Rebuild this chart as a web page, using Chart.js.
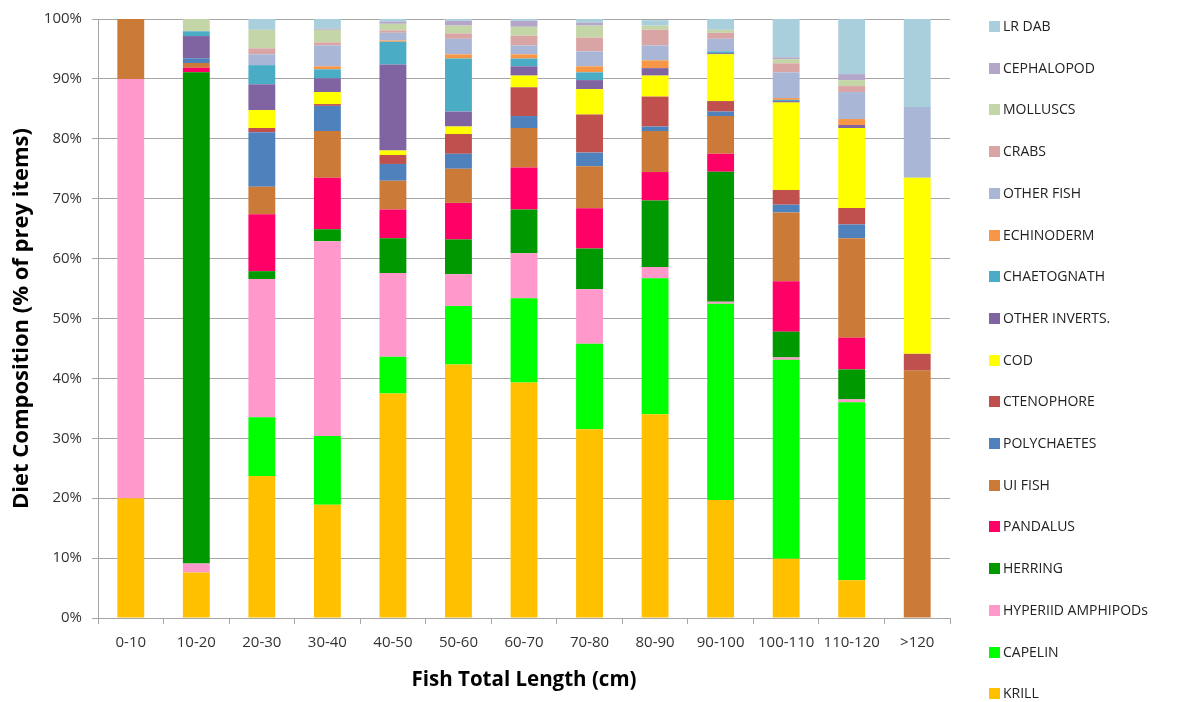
<!DOCTYPE html>
<html>
<head>
<meta charset="utf-8">
<script src="https://cdn.jsdelivr.net/npm/chart.js@4"></script>
<style>
  body { margin: 0; background: #fff; }
  #wrap { position: relative; width: 1178px; height: 702px; }
  #leyenda { position: absolute; left: 0; top: 0; }
  .item { position: absolute; left: 989px; height: 18px; line-height: 18px; font: 14px "Open Sans", sans-serif; color: #222; white-space: nowrap; }
  .caja { display: inline-block; width: 11px; height: 11px; margin-right: 3px; vertical-align: -1px; }
</style>
</head>
<body>
<div id="wrap">
  <canvas id="dieta" width="1178" height="702"></canvas>
  <div id="leyenda"></div>
</div>
<script>
let categorias = ['0-10','10-20','20-30','30-40','40-50','50-60','60-70','70-80','80-90','90-100','100-110','110-120','>120']

let krill        = [20, 7.6, 23.7, 18.9, 37.5, 42.3, 39.3, 31.5, 34.0, 19.7, 9.9, 6.3, 0]
let capelin      = [0, 0, 9.8, 11.5, 6.1, 9.8, 14.1, 14.3, 22.7, 32.75, 33.2, 29.7, 0]
let hyperiid     = [70, 1.5, 23.1, 32.5, 14.0, 5.3, 7.5, 9.1, 1.9, 0.35, 0.4, 0.5, 0]
let herring      = [0, 82.0, 1.3, 2.0, 5.8, 5.8, 7.3, 6.8, 11.1, 21.7, 4.3, 5.0, 0]
let pandalus     = [0, 0.75, 9.5, 8.6, 4.8, 6.1, 7.0, 6.7, 4.75, 3.0, 8.4, 5.3, 0]
let uiFish       = [10, 0.8, 4.6, 7.8, 4.8, 5.7, 6.6, 7.0, 6.85, 6.3, 11.5, 16.6, 41.3]
let polychaetes  = [0, 0.8, 9.1, 4.2, 2.8, 2.5, 2.0, 2.3, 0.75, 0.75, 1.3, 2.3, 0]
let ctenophore   = [0, 0, 0.7, 0.3, 1.5, 3.3, 4.8, 6.35, 5.0, 1.75, 2.45, 2.75, 2.8]
let cod          = [0, 0, 3.0, 2.0, 0.75, 1.25, 1.95, 4.25, 3.5, 7.8, 14.6, 13.35, 29.4]
let otherInverts = [0, 3.7, 4.3, 2.3, 14.35, 2.5, 1.55, 1.5, 1.25, 0.2, 0.25, 0.5, 0]
let chaetognath  = [0, 0.8, 3.2, 1.5, 3.8, 8.85, 1.3, 1.3, 0, 0.3, 0.2, 0, 0]
let echinoderm   = [0, 0, 0, 0.5, 0.2, 0.7, 0.7, 1.0, 1.3, 0, 0.3, 1.0, 0]
let otherFish    = [0, 0, 1.8, 3.5, 1.3, 2.6, 1.5, 2.5, 2.5, 2.1, 4.3, 4.5, 11.8]
let crabs        = [0, 0, 1.0, 0.5, 0.4, 0.9, 1.6, 2.3, 2.6, 1.0, 1.5, 1.0, 0]
let molluscs     = [0, 2.1, 3.1, 2.1, 1.1, 1.3, 1.5, 2.0, 0.7, 0.5, 0.7, 1.0, 0]
let cephalopod   = [0, 0, 0, 0.2, 0.35, 0.8, 1.0, 0.5, 0, 0, 0.3, 1.0, 0]
let lrDab        = [0, 0, 1.8, 1.6, 0.45, 0.3, 0.3, 0.6, 0.9, 1.8, 6.4, 9.2, 14.7]

let ticksY = [0, 10, 20, 30, 40, 50, 60, 70, 80, 90, 100]

// bottom of the stack first
let series = [
    ['KRILL', krill, '#FFC000'],
    ['CAPELIN', capelin, '#00FF00'],
    ['HYPERIID AMPHIPODs', hyperiid, '#FF99CC'],
    ['HERRING', herring, '#009900'],
    ['PANDALUS', pandalus, '#FF0066'],
    ['UI FISH', uiFish, '#CC7A38'],
    ['POLYCHAETES', polychaetes, '#4F81BD'],
    ['CTENOPHORE', ctenophore, '#C0504D'],
    ['COD', cod, '#FFFF00'],
    ['OTHER INVERTS.', otherInverts, '#8064A2'],
    ['CHAETOGNATH', chaetognath, '#4BACC6'],
    ['ECHINODERM', echinoderm, '#F79646'],
    ['OTHER FISH', otherFish, '#A9B6D6'],
    ['CRABS', crabs, '#D9A5A4'],
    ['MOLLUSCS', molluscs, '#C4D6A7'],
    ['CEPHALOPOD', cephalopod, '#B3A6C9'],
    ['LR DAB', lrDab, '#A9CEDC']
]

document.addEventListener('DOMContentLoaded',()=>{

    let gris = '#A6A6A6'
    let fuente = '"Open Sans", sans-serif'

    let grafico = new Chart(document.getElementById('dieta'), {
        type: 'bar',
        data: {
            labels: categorias,
            datasets: series.map(s => ({
                label: s[0],
                data: s[1],
                backgroundColor: s[2],
                borderWidth: 0,
                barPercentage: 0.41,
                categoryPercentage: 1
            }))
        },
        options: {
            responsive: false,
            animation: false,
            layout: { padding: { left: 0, top: 18, right: 228, bottom: 0 } },
            plugins: { legend: { display: false }, tooltip: { enabled: false } },
            scales: {
                x: {
                    stacked: true,
                    grid: { drawOnChartArea: false, color: gris, tickLength: 6, offset: true },
                    border: { color: gris },
                    ticks: { color: '#333', font: { family: fuente, size: 15 }, padding: 10, maxRotation: 0 },
                    title: { display: true, text: 'Fish Total Length (cm)', color: '#000',
                             font: { family: fuente, size: 20.5, weight: 'bold' }, padding: { top: 0, bottom: 10 } },
                    afterFit: s => { s.height = 84 }
                },
                y: {
                    stacked: true,
                    min: 0,
                    max: 100,
                    afterBuildTicks: s => { s.ticks = ticksY.map(v => ({ value: v })) },
                    grid: { color: gris, tickLength: 6 },
                    border: { color: gris },
                    ticks: { color: '#333', font: { family: fuente, size: 15 }, padding: 10,
                             callback: v => v + '%' },
                    title: { display: true, text: 'Diet Composition (% of prey items)', color: '#000',
                             font: { family: fuente, size: 22, weight: 'bold' }, padding: { top: 9, bottom: 0 } },
                    afterFit: s => { s.width = 98 }
                }
            }
        }
    })

    let leyenda = document.getElementById('leyenda')
    let orden = grafico.data.datasets.slice().reverse()
    for (let i = 0; i < orden.length; i++) {
        let y = 25 + i * 41.7 - 9
        leyenda.innerHTML += `<div class="item" style="top:${y}px"><span class="caja" style="background:${orden[i].backgroundColor}"></span>${orden[i].label}</div>`
    }
})
</script>
</body>
</html>
